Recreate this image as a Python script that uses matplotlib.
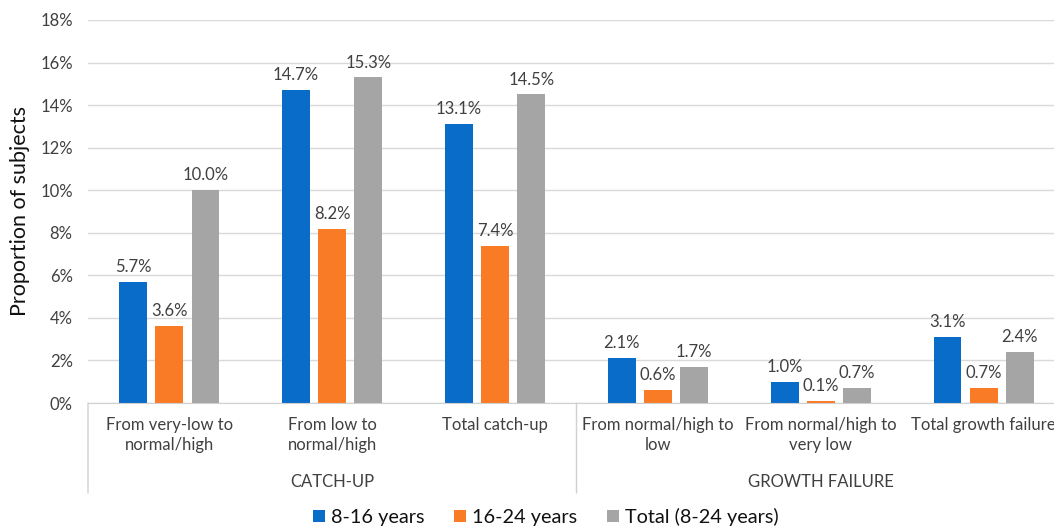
import matplotlib
matplotlib.use("Agg")
import matplotlib.pyplot as plt
from matplotlib.patches import Patch
import numpy as np

plt.rcParams['font.family'] = ['Lato', 'DejaVu Sans']

categories = ["From very-low to\nnormal/high", "From low to\nnormal/high", "Total catch-up",
              "From normal/high to\nlow", "From normal/high to\nvery low", "Total growth failure"]
groups = ["CATCH-UP", "GROWTH FAILURE"]
series_names = ["8-16 years", "16-24 years", "Total (8-24 years)"]
age_8_16 = [5.7, 14.7, 13.1, 2.1, 1.0, 3.1]
age_16_24 = [3.6, 8.2, 7.4, 0.6, 0.1, 0.7]
total_8_24 = [10.0, 15.3, 14.5, 1.7, 0.7, 2.4]
yticks = [0, 2, 4, 6, 8, 10, 12, 14, 16, 18]

colors = ["#0A6CC9", "#FA7B25", "#A5A5A5"]
text_col = "#404040"

W, H = 1054, 527
fig = plt.figure(figsize=(W / 100, H / 100), dpi=100)
left, right, top, bottom = 88, 1065, 20, 403
ax = fig.add_axes([left / W, (H - bottom) / H, (right - left) / W, (bottom - top) / H])

x = np.arange(len(categories))
bw = 0.171
step = 0.222
for i, (vals, c) in enumerate(zip([age_8_16, age_16_24, total_8_24], colors)):
    xs = x + (i - 1) * step
    ax.bar(xs, vals, width=bw, color=c, zorder=3)
    for xi, v in zip(xs, vals):
        ax.annotate(f"{v:.1f}%", (xi, v), xytext=(0, 5), textcoords="offset points",
                    ha="center", va="bottom", fontsize=12, color=text_col, zorder=4)

ax.set_xlim(-0.5, len(categories) - 0.5)
ax.set_ylim(0, 18)
ax.set_yticks(yticks)
ax.set_yticklabels([f"{t}%" for t in yticks], fontsize=12, color=text_col)
ax.tick_params(axis="y", length=0, pad=11)
ax.tick_params(axis="x", length=0)
ax.set_xticks([])
ax.grid(axis="y", color="#D9D9D9", linewidth=1, zorder=0)
for s in ["top", "right", "left"]:
    ax.spines[s].set_visible(False)
ax.spines["bottom"].set_color("#D0D0D0")
ax.spines["bottom"].set_zorder(3)

ax.set_ylabel("Proportion of subjects", fontsize=15.5, color="#111111", labelpad=7)

# two-level category axis
for xi, lab in zip(x, categories):
    ax.annotate(lab, (xi, 0), xycoords=("data", "axes fraction"), xytext=(0, -10),
                textcoords="offset points", ha="center", va="top", fontsize=12,
                color=text_col, linespacing=1.3)
for gi, g in enumerate(groups):
    ax.annotate(g, (gi * 3 + 1, 0), xycoords=("data", "axes fraction"), xytext=(0, -57),
                textcoords="offset points", ha="center", va="center", fontsize=12,
                color=text_col)
for xb in [-0.5, 2.5]:
    ax.annotate("", (xb, 0), xycoords=("data", "axes fraction"),
                xytext=(xb, -90 / (bottom - top)), textcoords=("data", "axes fraction"),
                arrowprops=dict(arrowstyle="-", color="#D0D0D0", lw=1,
                                shrinkA=0, shrinkB=0))

handles = [Patch(facecolor=c, edgecolor="none") for c in colors]
fig.legend(handles, series_names, loc="center", bbox_to_anchor=(546 / W, (H - 517) / H),
           ncol=3, frameon=False, fontsize=14.3, handlelength=0.6, handleheight=0.6,
           handletextpad=0.3, columnspacing=1.5, labelcolor="#111111")

fig.savefig("out.png", dpi=100)
